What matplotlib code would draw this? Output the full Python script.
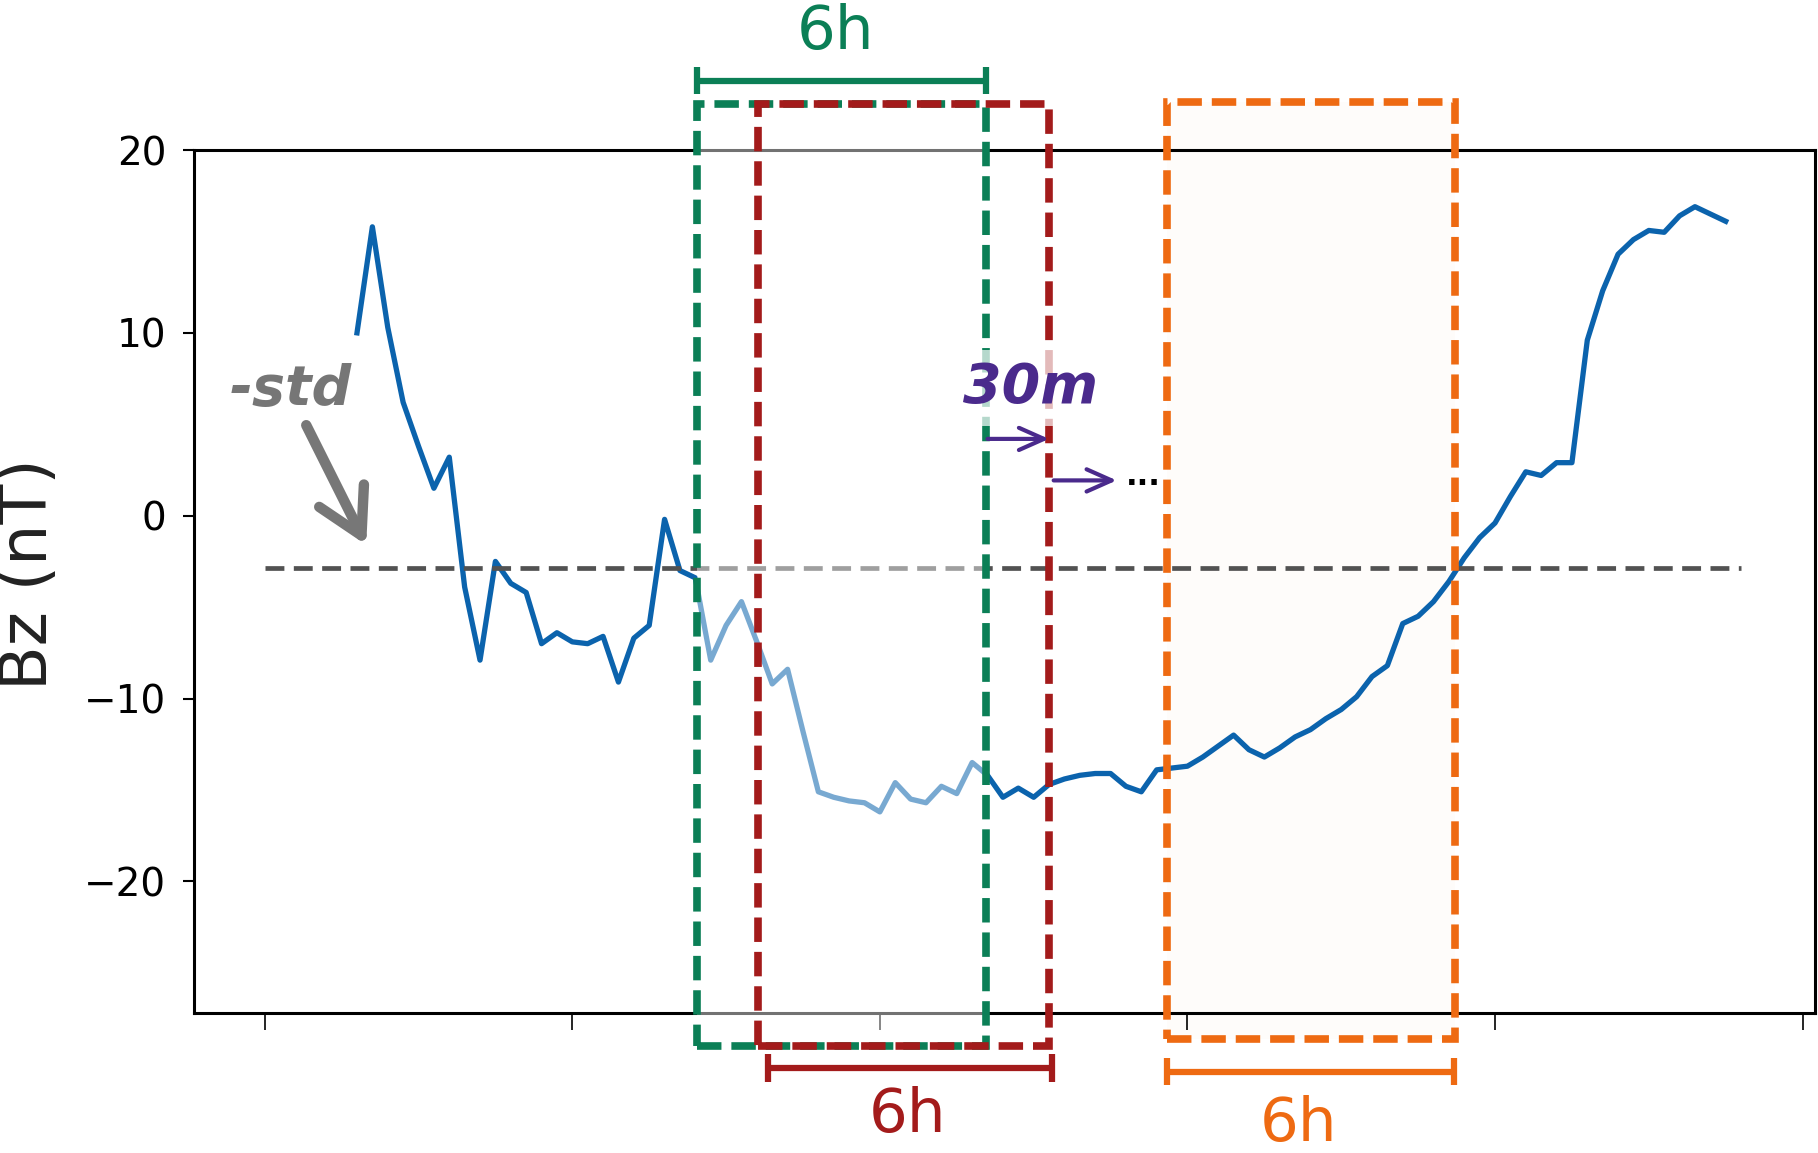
import numpy as np
import matplotlib
matplotlib.use("Agg")
import matplotlib.pyplot as plt
from matplotlib.patches import Rectangle

# Bz series, one sample per step (index 6 .. 95)
idx = np.arange(6, 96)
bz = [10.0, 15.8, 10.3, 6.2, 3.8, 1.5, 3.2, -3.9, -7.9, -2.5,
      -3.7, -4.2, -7.0, -6.4, -6.9, -7.0, -6.6, -9.1, -6.7, -6.0,
      -0.2, -3.0, -3.4, -7.9, -6.0, -4.7, -6.9, -9.2, -8.4, -11.8,
      -15.1, -15.4, -15.6, -15.7, -16.2, -14.6, -15.5, -15.7, -14.8, -15.2,
      -13.5, -14.2, -15.4, -14.9, -15.4, -14.7, -14.4, -14.2, -14.1, -14.1,
      -14.8, -15.1, -13.9, -13.8, -13.7, -13.2, -12.6, -12.0, -12.8, -13.2,
      -12.7, -12.1, -11.7, -11.1, -10.6, -9.9, -8.8, -8.2, -5.9, -5.5,
      -4.7, -3.6, -2.3, -1.2, -0.4, 1.05, 2.4, 2.2, 2.9, 2.9,
      9.6, 12.3, 14.3, 15.1, 15.6, 15.5, 16.4, 16.9, 16.5, 16.1]
neg_std = -2.85
std_span = [0, 96]

# sliding windows (green, red, orange)
win_start = [28.1, 32.1, 58.7]
win_end = [46.9, 51.0, 77.4]
win_top = [22.5, 22.5, 22.6]
win_bottom = [-29.0, -29.0, -28.6]
win_colors = ["#0b7f56", "#a31b1b", "#ee6a12"]
bar_start = [28.1, 32.7, 58.7]
bar_end = [46.9, 51.2, 77.3]
bar_y = [23.8, -30.2, -30.4]
lab_x = [37.1, 41.8, 67.2]
lab_y = [26.4, -32.8, -33.3]
win_label = "6h"

xticks = [0, 20, 40, 60, 80, 100]
yticks = [20, 10, 0, -10, -20]

fig = plt.figure(figsize=(18.18, 11.53), dpi=100)
ax = fig.add_axes([0.1067, 0.1214, 0.8916, 0.7485])

ax.plot(idx, bz, color="#0b63ad", lw=3.8, zorder=2)
ax.plot(std_span, [neg_std, neg_std], color="#525252", lw=3.4,
        dashes=(4.0, 2.0), zorder=2)

ax.set_xlim(-4.6, 100.8)
ax.set_ylim(-27.2, 20)
ax.set_xticks(xticks)
ax.set_xticklabels([])
ax.set_yticks(yticks)
for s in ax.spines.values():
    s.set_linewidth(2.2)
ax.tick_params(axis="x", length=12, width=1.2, direction="out")
ax.tick_params(axis="y", length=8, width=1.5, direction="out", pad=12)
for lab in ax.get_yticklabels():
    lab.set_fontfamily("DejaVu Sans")
    lab.set_fontsize(28)

fig.text(29 / 1818, 1 - 574 / 1153, "Bz (nT)", rotation=90, ha="center",
         va="center", fontsize=47, color="#222222")

# faint orange fill, white veil over the first window
ax.add_patch(Rectangle((win_start[2], win_bottom[2]), win_end[2] - win_start[2],
                       win_top[2] - win_bottom[2], facecolor=win_colors[2],
                       alpha=0.02, edgecolor="none", zorder=1.5, clip_on=False))
ax.add_patch(Rectangle((win_start[0], win_bottom[0]), win_end[0] - win_start[0],
                       win_top[0] - win_bottom[0], facecolor="white",
                       alpha=0.45, edgecolor="none", zorder=3, clip_on=False))

for i in range(3):
    ax.add_patch(Rectangle((win_start[i], win_bottom[i]), win_end[i] - win_start[i],
                           win_top[i] - win_bottom[i], fill=False,
                           edgecolor=win_colors[i], lw=5.5, ls=(0, (3.2, 1.3)),
                           zorder=4 + i, clip_on=False))
    ax.plot([bar_start[i], bar_end[i]], [bar_y[i], bar_y[i]], color=win_colors[i],
            lw=4.5, clip_on=False, zorder=6, solid_capstyle="butt")
    for bx in (bar_start[i], bar_end[i]):
        ax.plot([bx, bx], [bar_y[i] - 0.75, bar_y[i] + 0.75], color=win_colors[i],
                lw=4.5, clip_on=False, zorder=6, solid_capstyle="butt")
    ax.text(lab_x[i], lab_y[i], win_label, color=win_colors[i], fontsize=44,
            ha="center", va="center", clip_on=False)

purple = "#4a2a8c"
ax.text(49.8, 7.0, "30m", color=purple, fontsize=40, fontweight="bold",
        style="italic", ha="center", va="center", zorder=10,
        bbox=dict(facecolor="white", alpha=0.7, edgecolor="none", pad=8))
ax.annotate("", xy=(51.0, 4.2), xytext=(47.0, 4.2),
            arrowprops=dict(arrowstyle="->,head_length=0.9,head_width=0.4",
                            lw=3, color=purple, shrinkA=0, shrinkB=0,
                            mutation_scale=20), zorder=9)
ax.annotate("", xy=(55.4, 1.93), xytext=(51.3, 1.93),
            arrowprops=dict(arrowstyle="->,head_length=0.9,head_width=0.4",
                            lw=3, color=purple, shrinkA=0, shrinkB=0,
                            mutation_scale=20), zorder=9)
ax.text(56.0, 1.7, "...", color="black", fontsize=22, fontweight="bold",
        ha="left", va="baseline", zorder=9)

ax.text(1.7, 6.9, "-std", color="#767676", fontsize=40, fontweight="bold",
        style="italic", ha="center", va="center", zorder=9)
ax.annotate("", xy=(6.6, -1.6), xytext=(2.7, 4.95),
            arrowprops=dict(arrowstyle="->,head_length=1.6,head_width=0.9",
                            lw=7.5, color="#777777", shrinkA=0, shrinkB=0,
                            mutation_scale=20), zorder=9)

fig.savefig("out.png", dpi=100)
